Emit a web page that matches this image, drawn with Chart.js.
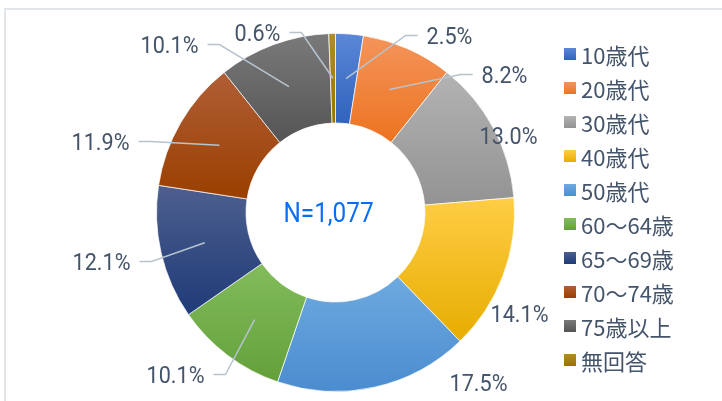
<!DOCTYPE html>
<html lang="ja">
<head>
  <meta charset="UTF-8"/>
  <title>年代別 回答者構成</title>
  <script src="https://cdn.jsdelivr.net/npm/chart.js"></script>
  <style>
    body { margin: 0; background: #fff; overflow: hidden; }
    #wrap { position: relative; width: 722px; height: 401px; overflow: hidden; }
    #frame { position: absolute; left: 4px; top: 8px; width: 900px; height: 600px; border: 2px solid #e2e6eb; }
    #chart { position: absolute; left: 0; top: 0; }
    #legend { position: absolute; left: 564px; top: 37px; font-family: "Noto Sans CJK JP", sans-serif; font-size: 22px; color: #44546a; }
    .row { height: 34px; display: flex; align-items: center; white-space: nowrap; }
    .box { width: 12px; height: 12px; margin-right: 5px; flex: none; }
  </style>
</head>
<body>
  <div id="wrap">
    <div id="frame"></div>
    <canvas id="chart" width="722" height="401"></canvas>
    <div id="legend"></div>
  </div>

  <script>
    // data
    const categories = ['10歳代', '20歳代', '30歳代', '40歳代', '50歳代', '60～64歳', '65～69歳', '70～74歳', '75歳以上', '無回答'];
    const shares = [2.5, 8.2, 13.0, 14.1, 17.5, 10.1, 12.1, 11.9, 10.1, 0.6];
    const totalN = 1077;

    // colours (gradient top -> bottom, legend swatch)
    const topColors = ['#5b87d6', '#f4945a', '#b3b3b3', '#ffcd45', '#6eaae0', '#82bc5c', '#4d5f8e', '#b05e36', '#7a7a7a', '#b08c28'];
    const bottomColors = ['#2f63bd', '#ec7420', '#939393', '#e6ad00', '#4a8ccf', '#63a03a', '#1f3b78', '#9a3f00', '#545454', '#997300'];

    // label placement, relative to the doughnut centre
    const labelOffsets = [[114, -177], [169, -138], [173, -77], [184, 101], [143, 170], [-160, 162], [-234, 49], [-235, -71], [-166, -168], [-78, -180]];
    const hasLeader = [true, true, false, false, false, true, true, true, true, true];

    const textColor = '#44546a';
    const labelSize = 24;
    const squeeze = 0.9;

    function drawText(ctx, text, cx, cy, size, color) {
      ctx.save();
      ctx.font = size + 'px Roboto';
      ctx.fillStyle = color;
      ctx.textAlign = 'center';
      ctx.textBaseline = 'alphabetic';
      ctx.translate(cx, cy + size * 0.711 / 2);
      ctx.scale(squeeze, 1);
      ctx.fillText(text, 0, 0);
      ctx.restore();
    }

    const arcProps = ['x', 'y', 'startAngle', 'endAngle', 'innerRadius', 'outerRadius'];

    const sliceGradient = {
      id: 'sliceGradient',
      beforeDatasetsDraw(chart) {
        const ctx = chart.ctx;
        chart.getDatasetMeta(0).data.forEach((arc, i) => {
          const p = arc.getProps(arcProps, true);
          let minY = Infinity, maxY = -Infinity;
          for (let k = 0; k <= 60; k++) {
            const a = p.startAngle + (p.endAngle - p.startAngle) * k / 60;
            [p.innerRadius, p.outerRadius].forEach(r => {
              const y = p.y + Math.sin(a) * r;
              minY = Math.min(minY, y);
              maxY = Math.max(maxY, y);
            });
          }
          const g = ctx.createLinearGradient(0, minY, 0, maxY);
          g.addColorStop(0, topColors[i]);
          g.addColorStop(1, bottomColors[i]);
          arc.options = Object.assign({}, arc.options, { backgroundColor: g });
        });
      }
    };

    const outLabels = {
      id: 'outLabels',
      afterDatasetsDraw(chart) {
        const ctx = chart.ctx;
        let cx = 0, cy = 0;
        chart.getDatasetMeta(0).data.forEach((arc, i) => {
          const p = arc.getProps(arcProps, true);
          cx = p.x; cy = p.y;
          const mid = (p.startAngle + p.endAngle) / 2;
          const r = (p.innerRadius + p.outerRadius) / 2;
          const ax = p.x + Math.cos(mid) * r;
          const ay = p.y + Math.sin(mid) * r;
          const tx = p.x + labelOffsets[i][0];
          const ty = p.y + labelOffsets[i][1];
          const text = shares[i].toFixed(1) + '%';
          if (hasLeader[i]) {
            ctx.font = labelSize + 'px Roboto';
            const half = ctx.measureText(text).width * squeeze / 2;
            const dir = tx < ax ? 1 : -1;
            const end = tx + dir * (half + 9);
            const elbow = end + dir * 12;
            ctx.save();
            ctx.strokeStyle = '#b7c3cf';
            ctx.lineWidth = 1.5;
            ctx.beginPath();
            ctx.moveTo(ax, ay);
            ctx.lineTo(elbow, ty);
            ctx.lineTo(end, ty);
            ctx.stroke();
            ctx.restore();
          }
          drawText(ctx, text, tx, ty, labelSize, textColor);
        });
        drawText(ctx, 'N=' + totalN.toLocaleString('en-US'), cx - 7, cy, 27, '#0a6ef5');
      }
    };

    new Chart(document.getElementById('chart'), {
      type: 'doughnut',
      data: {
        labels: categories,
        datasets: [{
          data: shares,
          backgroundColor: bottomColors,
          borderColor: 'rgba(255,255,255,0.7)',
          borderWidth: 1
        }]
      },
      options: {
        responsive: false,
        animation: false,
        devicePixelRatio: 1,
        cutout: '50%',
        layout: { padding: { left: 156, right: 207, top: 33, bottom: 9 } },
        plugins: { legend: { display: false }, tooltip: { enabled: false } },
        events: []
      },
      plugins: [sliceGradient, outLabels]
    });

    // legend
    document.getElementById('legend').innerHTML = categories.map((c, i) => `
      <div class="row"><span class="box" style="background:linear-gradient(${topColors[i]}, ${bottomColors[i]})"></span>${c}</div>`).join('');
  </script>
</body>
</html>
